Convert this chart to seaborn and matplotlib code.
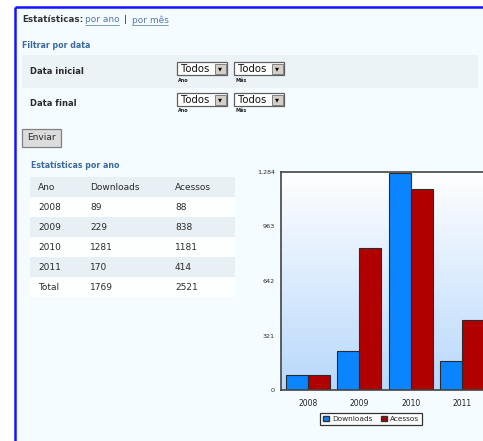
import numpy as np
import pandas as pd
import matplotlib.pyplot as plt
import seaborn as sns
from matplotlib.patches import Rectangle, Patch
from matplotlib.colors import LinearSegmentedColormap
from matplotlib.ticker import FuncFormatter

# ---------------------------------------------------------------------
# Dados
# ---------------------------------------------------------------------
anos = ['2008', '2009', '2010', '2011']
downloads = [89, 229, 1281, 170]
acessos = [88, 838, 1181, 414]
total_downloads = 1769
total_acessos = 2521
cabecalho = ['Ano', 'Downloads', 'Acessos']
y_ticks = [0, 321, 642, 963, 1284]

cor_down = '#0a84ff'
cor_aces = '#b00000'
azul_titulo = '#3b6aa0'
texto = '#2a2a2a'

sns.set_style('white')
plt.rcParams['font.family'] = ['DejaVu Sans']

W, H = 483, 441
fig = plt.figure(figsize=(W / 100, H / 100), dpi=100, facecolor='white')

# camada da pagina, em pixels (origem no canto superior esquerdo)
pg = fig.add_axes([0, 0, 1, 1])
pg.set_xlim(0, W)
pg.set_ylim(H, 0)
pg.axis('off')


def caixa(x0, y0, x1, y1, **kw):
    pg.add_patch(Rectangle((x0, y0), x1 - x0, y1 - y0, **kw))


caixa(15, 7, W, H, facecolor='#f5fcff', edgecolor='none')
pg.plot([15, W], [7, 7], color='#1414ff', lw=1.8, solid_capstyle='butt')
pg.plot([15, 15], [7, H], color='#1414ff', lw=1.8, solid_capstyle='butt')

# --- cabecalho com links ---
pg.text(22, 20, 'Estatísticas:', fontsize=6.3, weight='bold', color='#333', va='center')
pg.text(85, 20, 'por ano', fontsize=6.5, color='#5577aa', va='center')
pg.plot([85, 119], [24.5, 24.5], color='#5577aa', lw=0.5)
pg.text(124, 20, '|', fontsize=6.5, color='#222', va='center')
pg.text(132, 20, 'por mês', fontsize=6.5, color='#5577aa', va='center')
pg.plot([132, 168], [24.5, 24.5], color='#5577aa', lw=0.5)

# --- filtro por data ---
pg.text(22, 45, 'Filtrar por data', fontsize=5.7, weight='bold', color=azul_titulo, va='center')
caixa(22, 55, 478, 88, facecolor='#ebf3f7', edgecolor='none')
pg.text(30, 72, 'Data inicial', fontsize=6, weight='bold', color=texto, va='center')
pg.text(30, 104, 'Data final', fontsize=6, weight='bold', color=texto, va='center')


def seletor(x, y, rotulo):
    caixa(x, y, x + 50, y + 13, facecolor='white', edgecolor='#606060', lw=0.9)
    caixa(x + 38, y + 1.5, x + 48.5, y + 11.5, facecolor='#d4d0c8', edgecolor='#707070', lw=0.6)
    pg.text(x + 43.3, y + 6.8, '▼', fontsize=3.8, ha='center', va='center', color='#000')
    pg.text(x + 4, y + 6.8, 'Todos', fontsize=7.3, va='center', color='#111')
    pg.text(x + 1, y + 18, rotulo, fontsize=3.5, weight='bold', va='center', color='#222')


for y in (62, 93):
    seletor(177, y, 'Ano')
    seletor(234, y, 'Mês')

# --- botao ---
caixa(22, 129, 61, 147, facecolor='#dcdcdc', edgecolor='#808080', lw=0.9)
pg.text(41.5, 138, 'Enviar', fontsize=6.5, color=texto, ha='center', va='center')

# --- tabela ---
pg.text(31, 166, 'Estatísticas por ano', fontsize=5.7, weight='bold', color=azul_titulo, va='center')
col_x = [38, 90, 175]
linhas = [cabecalho] + [[a, str(d), str(c)] for a, d, c in zip(anos, downloads, acessos)]
linhas.append(['Total', str(total_downloads), str(total_acessos)])
for i, linha in enumerate(linhas):
    y0 = 177 + 20 * i
    cor = '#e6f0f5' if i in (0, 2, 4) else '#fdffff'
    caixa(30, y0, 235, y0 + 20, facecolor=cor, edgecolor='none')
    for x, val in zip(col_x, linha):
        pg.text(x, y0 + 10, val, fontsize=6.5, color=texto, va='center')

# ---------------------------------------------------------------------
# Grafico
# ---------------------------------------------------------------------
ax_l, ax_r, ax_t, ax_b = 281, 495, 172, 390
ax = fig.add_axes([ax_l / W, 1 - ax_b / H, (ax_r - ax_l) / W, (ax_b - ax_t) / H])

df = pd.DataFrame({
    'Ano': anos * 2,
    'Valor': downloads + acessos,
    'Tipo': ['Downloads'] * len(anos) + ['Acessos'] * len(anos),
})
sns.barplot(data=df, x='Ano', y='Valor', hue='Tipo',
            palette={'Downloads': cor_down, 'Acessos': cor_aces},
            width=0.856, gap=0, saturation=1, errorbar=None,
            edgecolor='#2b2b2b', linewidth=0.8, legend=False, ax=ax)

px_por_grupo = 51.4
x0 = -(308 - ax_l) / px_por_grupo
x1 = x0 + (ax_r - ax_l) / px_por_grupo
grad = LinearSegmentedColormap.from_list('fundo', ['#ffffff', '#b8d8fc'])
ax.imshow(np.linspace(0, 1, 256).reshape(-1, 1), cmap=grad, aspect='auto',
          extent=[x0, x1, 0, y_ticks[-1]], zorder=0)
ax.set_xlim(x0, x1)
ax.set_ylim(0, y_ticks[-1])
ax.set_yticks(y_ticks)
ax.yaxis.set_major_formatter(FuncFormatter(lambda v, p: f'{int(v):,}'))
ax.set_xlabel('')
ax.set_ylabel('')
ax.tick_params(axis='y', length=2.5, width=0.6, labelsize=4.6, pad=2, color='#555', labelcolor=texto)
ax.tick_params(axis='x', length=2.5, width=0.6, labelsize=5.5, pad=4, color='#555', labelcolor='#222')
for lado in ('top', 'left', 'bottom'):
    ax.spines[lado].set_color('#444')
    ax.spines[lado].set_linewidth(1.2)
ax.spines['right'].set_visible(False)

leg = fig.legend(handles=[Patch(facecolor=cor_down, edgecolor='#333', label='Downloads'),
                          Patch(facecolor=cor_aces, edgecolor='#333', label='Acessos')],
                 loc='center', bbox_to_anchor=(371 / W, 1 - 419 / H), ncol=2, fontsize=5.3,
                 frameon=True, fancybox=False, edgecolor='#333', framealpha=1,
                 handlelength=0.8, handleheight=0.8, handletextpad=0.4,
                 columnspacing=1.2, borderpad=0.4)
leg.get_frame().set_linewidth(0.9)

fig.savefig('out.png', dpi=100)
